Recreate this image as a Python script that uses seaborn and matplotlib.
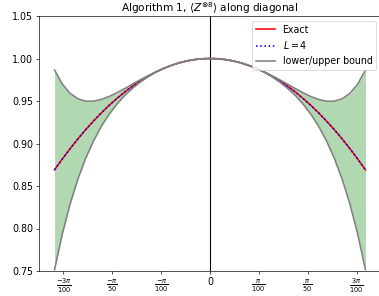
import numpy as np
import matplotlib
matplotlib.use("Agg")
import matplotlib.pyplot as plt
import seaborn as sns

# angle along the diagonal
theta = [-0.100, -0.095, -0.090, -0.085, -0.080, -0.075, -0.070, -0.065, -0.060, -0.055,
         -0.050, -0.045, -0.040, -0.035, -0.030, -0.025, -0.020, -0.015, -0.010, -0.005,
         0.000, 0.005, 0.010, 0.015, 0.020, 0.025, 0.030, 0.035, 0.040, 0.045,
         0.050, 0.055, 0.060, 0.065, 0.070, 0.075, 0.080, 0.085, 0.090, 0.095, 0.100]

# exact expectation value
exact = [0.8690, 0.8818, 0.8939, 0.9054, 0.9162, 0.9263, 0.9358, 0.9447, 0.9528, 0.9604,
         0.9673, 0.9735, 0.9790, 0.9840, 0.9882, 0.9918, 0.9948, 0.9971, 0.9987, 0.9997,
         1.0000, 0.9997, 0.9987, 0.9971, 0.9948, 0.9918, 0.9882, 0.9840, 0.9790, 0.9735,
         0.9673, 0.9604, 0.9528, 0.9447, 0.9358, 0.9263, 0.9162, 0.9054, 0.8939, 0.8818, 0.8690]

# algorithm estimate with L = 4 (sits on top of exact)
est_l4 = [0.8690, 0.8818, 0.8939, 0.9054, 0.9162, 0.9263, 0.9358, 0.9447, 0.9528, 0.9604,
          0.9673, 0.9735, 0.9790, 0.9840, 0.9882, 0.9918, 0.9948, 0.9971, 0.9987, 0.9997,
          1.0000, 0.9997, 0.9987, 0.9971, 0.9948, 0.9918, 0.9882, 0.9840, 0.9790, 0.9735,
          0.9673, 0.9604, 0.9528, 0.9447, 0.9358, 0.9263, 0.9162, 0.9054, 0.8939, 0.8818, 0.8690]

upper = [0.9865, 0.9699, 0.9590, 0.9526, 0.9498, 0.9498, 0.9518, 0.9552, 0.9596, 0.9645,
         0.9697, 0.9748, 0.9797, 0.9841, 0.9883, 0.9918, 0.9948, 0.9971, 0.9987, 0.9997,
         1.0000, 0.9997, 0.9987, 0.9971, 0.9948, 0.9918, 0.9883, 0.9841, 0.9797, 0.9748,
         0.9697, 0.9645, 0.9596, 0.9552, 0.9518, 0.9498, 0.9498, 0.9526, 0.9590, 0.9699, 0.9865]

lower = [0.7515, 0.7936, 0.8288, 0.8581, 0.8825, 0.9028, 0.9199, 0.9341, 0.9461, 0.9563,
         0.9648, 0.9721, 0.9783, 0.9838, 0.9881, 0.9918, 0.9948, 0.9971, 0.9987, 0.9997,
         1.0000, 0.9997, 0.9987, 0.9971, 0.9948, 0.9918, 0.9881, 0.9838, 0.9783, 0.9721,
         0.9648, 0.9563, 0.9461, 0.9341, 0.9199, 0.9028, 0.8825, 0.8581, 0.8288, 0.7936, 0.7515]

xtick_vals = [-3 * np.pi / 100, -np.pi / 50, -np.pi / 100, 0, np.pi / 100, np.pi / 50, 3 * np.pi / 100]
xtick_labels = [r"$\frac{-3\pi}{100}$", r"$\frac{-\pi}{50}$", r"$\frac{-\pi}{100}$", "0",
                r"$\frac{\pi}{100}$", r"$\frac{\pi}{50}$", r"$\frac{3\pi}{100}$"]
ytick_vals = [0.75, 0.80, 0.85, 0.90, 0.95, 1.00, 1.05]

plt.rcParams["font.size"] = 11.4

dpi = 60
fig = plt.figure(figsize=(379 / dpi, 296 / dpi), dpi=dpi)
ax = fig.add_axes([39 / 379, 25 / 296, 342 / 379, 255 / 296])

ax.axvline(0, color="k", linewidth=1.3, zorder=1)
ax.fill_between(theta, lower, upper, color="g", alpha=0.3, linewidth=0)

lw = 1.9
sns.lineplot(x=theta, y=exact, ax=ax, color="red", linewidth=lw, label="Exact")
sns.lineplot(x=theta, y=est_l4, ax=ax, color="blue", linestyle=":", linewidth=lw, label=r"$L = 4$")
sns.lineplot(x=theta, y=lower, ax=ax, color="gray", linewidth=lw, label="lower/upper bound")
sns.lineplot(x=theta, y=upper, ax=ax, color="gray", linewidth=lw)

ax.set_ylim(0.75, 1.05)
ax.set_yticks(ytick_vals)
ax.set_xticks(xtick_vals)
ax.set_xticklabels(xtick_labels)
ax.set_title(r"Algorithm 1, $\langle Z^{\otimes 8}\rangle$ along diagonal", fontsize=12.6, pad=0.5)
ax.legend(loc="upper right")

fig.savefig("out.png", dpi=dpi)
